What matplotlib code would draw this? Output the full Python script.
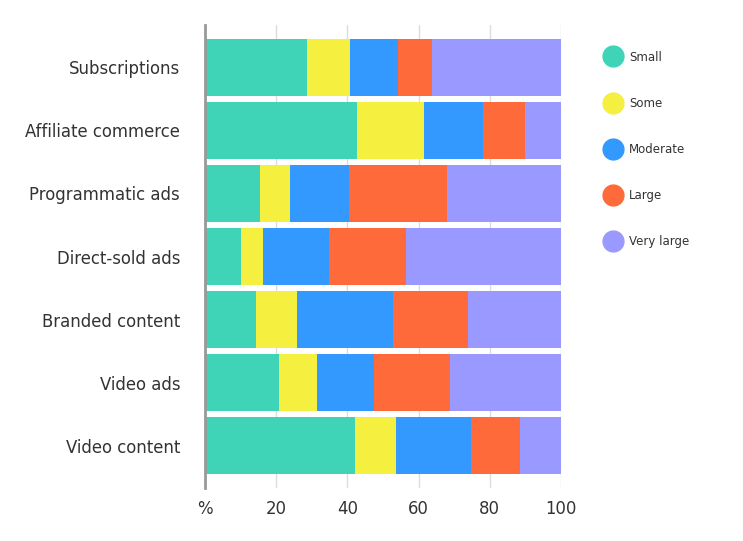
import numpy as np
import matplotlib
matplotlib.use("Agg")
import matplotlib.pyplot as plt
from matplotlib.lines import Line2D

# Datos
categorias = ["Subscriptions", "Affiliate commerce", "Programmatic ads",
              "Direct-sold ads", "Branded content", "Video ads", "Video content"]
niveles = ["Small", "Some", "Moderate", "Large", "Very large"]
small = [28.7, 42.8, 15.4, 10.0, 14.3, 20.8, 42.1]
some = [12.1, 18.7, 8.5, 6.3, 11.5, 10.7, 11.6]
moderate = [13.5, 16.6, 16.6, 18.5, 27.0, 15.9, 21.0]
large = [9.5, 11.8, 27.4, 21.6, 21.1, 21.5, 13.9]
very_large = [36.2, 10.1, 32.1, 43.6, 26.1, 31.1, 11.4]
ticks = [0, 20, 40, 60, 80, 100]
tick_labels = ["%", "20", "40", "60", "80", "100"]

colores = ["#3fd4b8", "#f5ef3f", "#3399ff", "#ff6a3b", "#9999ff"]
series = [small, some, moderate, large, very_large]

fig = plt.figure(figsize=(7.43, 5.41), dpi=100)
ax = fig.add_axes([205 / 743, 1 - 488 / 541, 356 / 743, 463 / 541])

y = np.arange(len(categorias))
izq = np.zeros(len(categorias))
for vals, col, nom in zip(series, colores, niveles):
    ax.barh(y, vals, left=izq, height=0.9, color=col, label=nom, zorder=2)
    izq = izq + np.array(vals)

ax.set_xlim(0, 100)
ax.set_ylim(len(categorias) - 0.33, -0.67)
ax.set_yticks(y)
ax.set_yticklabels(categorias, fontsize=11.9, color="#333333")
ax.set_xticks(ticks)
ax.set_xticklabels(tick_labels, fontsize=11.9, color="#333333")
ax.tick_params(axis="both", length=0)
ax.tick_params(axis="y", pad=18)
ax.tick_params(axis="x", pad=9)

ax.grid(axis="x", color="#dddddd", linewidth=1, zorder=0)
for s in ["top", "right", "bottom"]:
    ax.spines[s].set_visible(False)
ax.spines["left"].set_color("#999999")
ax.spines["left"].set_linewidth(2)
ax.spines["left"].set_zorder(3)

# Leyenda
handles = [Line2D([0], [0], marker="o", linestyle="", markersize=15,
                  markerfacecolor=c, markeredgecolor=c) for c in colores]
fig.legend(handles, niveles, loc="upper left", bbox_to_anchor=(594 / 743, 1 - 40 / 541),
           frameon=False, fontsize=8.5, labelspacing=2.8, handletextpad=0.55,
           handlelength=1.5, labelcolor="#333333")

plt.savefig("out.png", dpi=100)
